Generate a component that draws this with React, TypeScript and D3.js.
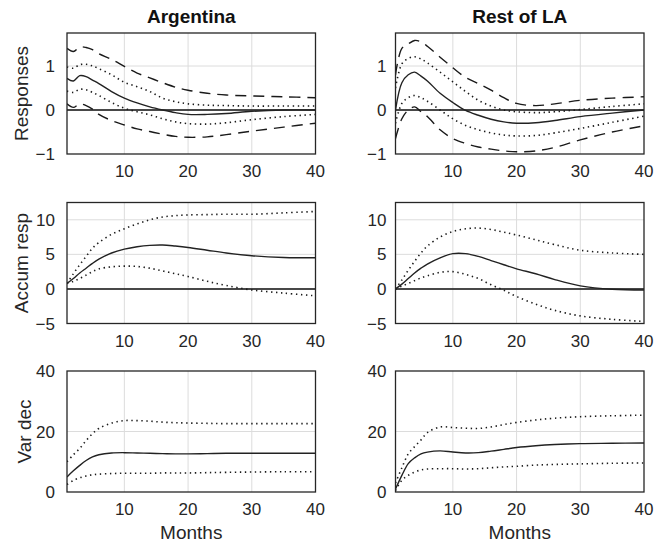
import React from "react";
import * as d3 from "d3";

const months = [1, 2, 3, 4, 5, 6, 8, 10, 12, 14, 16, 18, 20, 23, 26, 30, 35, 40];

// Row 1: Responses
const argRespMid = [0.72, 0.66, 0.78, 0.76, 0.68, 0.6, 0.42, 0.27, 0.16, 0.07, 0.0, -0.06, -0.1, -0.1, -0.08, -0.03, 0.0, 0.0];
const argRespU68 = [0.98, 0.95, 1.03, 1.04, 1.0, 0.94, 0.8, 0.63, 0.53, 0.42, 0.27, 0.19, 0.14, 0.11, 0.1, 0.09, 0.09, 0.09];
const argRespL68 = [0.43, 0.4, 0.47, 0.46, 0.4, 0.33, 0.17, 0.04, -0.04, -0.11, -0.2, -0.27, -0.31, -0.32, -0.29, -0.22, -0.15, -0.1];
const argRespU90 = [1.4, 1.33, 1.43, 1.42, 1.37, 1.28, 1.15, 0.99, 0.84, 0.73, 0.62, 0.52, 0.45, 0.38, 0.34, 0.32, 0.3, 0.28];
const argRespL90 = [0.14, 0.06, 0.14, 0.1, 0.02, -0.1, -0.24, -0.34, -0.43, -0.49, -0.55, -0.6, -0.62, -0.61, -0.56, -0.48, -0.39, -0.3];

const laRespMid = [0.0, 0.62, 0.8, 0.86, 0.77, 0.66, 0.38, 0.17, -0.01, -0.12, -0.21, -0.27, -0.3, -0.29, -0.24, -0.15, -0.07, 0.0];
const laRespU68 = [0.5, 1.05, 1.17, 1.21, 1.16, 1.07, 0.86, 0.64, 0.42, 0.22, 0.09, 0.0, -0.04, -0.06, -0.04, 0.01, 0.08, 0.14];
const laRespL68 = [-0.3, 0.15, 0.28, 0.33, 0.28, 0.2, 0.0, -0.2, -0.35, -0.45, -0.52, -0.57, -0.59, -0.58, -0.52, -0.42, -0.28, -0.14];
const laRespU90 = [0.8, 1.4, 1.5, 1.58, 1.55, 1.45, 1.2, 0.96, 0.74, 0.6, 0.45, 0.28, 0.15, 0.1, 0.14, 0.22, 0.27, 0.3];
const laRespL90 = [-0.65, -0.2, 0.0, 0.07, -0.04, -0.15, -0.45, -0.65, -0.76, -0.84, -0.89, -0.93, -0.95, -0.93, -0.85, -0.68, -0.5, -0.36];

// Row 2: Accumulated responses
const argAccMid = [0.8, 1.5, 2.3, 3.0, 3.7, 4.3, 5.2, 5.75, 6.1, 6.3, 6.35, 6.2, 6.0, 5.6, 5.2, 4.8, 4.55, 4.5];
const argAccU68 = [0.8, 2.2, 3.5, 4.7, 5.9, 6.7, 7.9, 8.7, 9.4, 10.0, 10.4, 10.6, 10.7, 10.75, 10.8, 10.8, 11.0, 11.2];
const argAccL68 = [0.8, 1.1, 1.5, 2.0, 2.5, 2.9, 3.2, 3.3, 3.25, 3.0, 2.6, 2.2, 1.8, 1.1, 0.5, -0.15, -0.6, -1.0];

const laAccMid = [0.0, 0.7, 1.5, 2.3, 3.0, 3.6, 4.5, 5.1, 5.1, 4.7, 4.1, 3.5, 2.9, 2.2, 1.35, 0.45, -0.05, -0.15];
const laAccU68 = [0.0, 1.3, 2.7, 4.0, 5.2, 6.2, 7.5, 8.3, 8.7, 8.8, 8.6, 8.2, 7.8, 7.1, 6.4, 5.6, 5.2, 5.0];
const laAccL68 = [0.0, 0.4, 0.8, 1.2, 1.6, 1.9, 2.4, 2.5, 2.1, 1.5, 0.6, -0.2, -1.1, -2.2, -3.1, -3.9, -4.4, -4.7];

// Row 3: Variance decomposition
const argVarMid = [5.0, 7.0, 8.8, 10.4, 11.6, 12.3, 12.9, 13.0, 12.9, 12.8, 12.7, 12.6, 12.6, 12.7, 12.8, 12.8, 12.8, 12.8];
const argVarU68 = [10.0, 12.3, 14.4, 17.0, 19.3, 21.0, 22.8, 23.6, 23.6, 23.4, 23.1, 22.9, 22.8, 22.7, 22.6, 22.6, 22.6, 22.6];
const argVarL68 = [2.5, 3.8, 4.7, 5.3, 5.7, 5.9, 6.1, 6.2, 6.2, 6.2, 6.3, 6.3, 6.3, 6.4, 6.5, 6.6, 6.7, 6.7];

const laVarMid = [1.0, 5.5, 9.4, 11.3, 12.6, 13.2, 13.6, 13.2, 12.9, 13.0, 13.5, 14.1, 14.7, 15.3, 15.7, 16.0, 16.1, 16.2];
const laVarU68 = [3.0, 8.0, 12.6, 15.0, 17.2, 19.6, 21.5, 21.3, 21.1, 21.0, 21.5, 22.3, 23.0, 23.8, 24.4, 24.9, 25.2, 25.4];
const laVarL68 = [0.5, 3.9, 5.5, 6.6, 7.3, 7.6, 7.7, 7.7, 7.6, 7.7, 8.0, 8.3, 8.5, 8.9, 9.1, 9.3, 9.5, 9.6];

const xTicks = [10, 20, 30, 40];
const respTicks = [-1, 0, 1];
const accTicks = [-5, 0, 5, 10];
const varTicks = [0, 20, 40];

const columnTitles = ["Argentina", "Rest of LA"];
const rowLabels = ["Responses", "Accum resp", "Var dec"];
const xLabel = "Months";

type Series = { values: number[]; style: "solid" | "dotted" | "dashed" };
type Panel = {
  col: number;
  row: number;
  domain: [number, number];
  ticks: number[];
  zeroLine: boolean;
  series: Series[];
};

const panels: Panel[] = [
  { col: 0, row: 0, domain: [-1, 1.75], ticks: respTicks, zeroLine: true, series: [
    { values: argRespU90, style: "dashed" }, { values: argRespL90, style: "dashed" },
    { values: argRespU68, style: "dotted" }, { values: argRespL68, style: "dotted" },
    { values: argRespMid, style: "solid" }] },
  { col: 1, row: 0, domain: [-1, 1.75], ticks: respTicks, zeroLine: true, series: [
    { values: laRespU90, style: "dashed" }, { values: laRespL90, style: "dashed" },
    { values: laRespU68, style: "dotted" }, { values: laRespL68, style: "dotted" },
    { values: laRespMid, style: "solid" }] },
  { col: 0, row: 1, domain: [-5, 12.5], ticks: accTicks, zeroLine: true, series: [
    { values: argAccU68, style: "dotted" }, { values: argAccL68, style: "dotted" },
    { values: argAccMid, style: "solid" }] },
  { col: 1, row: 1, domain: [-5, 12.5], ticks: accTicks, zeroLine: true, series: [
    { values: laAccU68, style: "dotted" }, { values: laAccL68, style: "dotted" },
    { values: laAccMid, style: "solid" }] },
  { col: 0, row: 2, domain: [0, 40], ticks: varTicks, zeroLine: false, series: [
    { values: argVarU68, style: "dotted" }, { values: argVarL68, style: "dotted" },
    { values: argVarMid, style: "solid" }] },
  { col: 1, row: 2, domain: [0, 40], ticks: varTicks, zeroLine: false, series: [
    { values: laVarU68, style: "dotted" }, { values: laVarL68, style: "dotted" },
    { values: laVarMid, style: "solid" }] },
];

const colLeft = [67, 395.5];
const colWidth = 248.5;
const rowTop = [33, 202.5, 371];
const rowHeight = 121;
const FONT = "'Liberation Sans', Arial, Helvetica, sans-serif";
const INK = "#262626";

function fmt(v: number) {
  return v < 0 ? "\u2212" + Math.abs(v) : String(v);
}

function PanelView({ p }: { p: Panel }) {
  const x0 = colLeft[p.col];
  const y0 = rowTop[p.row];
  const x = d3.scaleLinear().domain([1, 40]).range([x0, x0 + colWidth]);
  const y = d3.scaleLinear().domain(p.domain).range([y0 + rowHeight, y0]);
  const line = d3
    .line<number>()
    .x((_, i) => x(months[i]))
    .y((d) => y(d))
    .curve(d3.curveCatmullRom.alpha(0.5));
  const clipId = `clip-${p.row}-${p.col}`;
  const labelGap = p.col === 0 ? 12 : 9;
  return (
    <g>
      <defs>
        <clipPath id={clipId}>
          <rect x={x0} y={y0} width={colWidth} height={rowHeight} />
        </clipPath>
      </defs>
      <rect x={x0} y={y0} width={colWidth} height={rowHeight} fill="#fff" />
      {xTicks.slice(0, 3).map((t) => (
        <line key={"gx" + t} x1={x(t)} x2={x(t)} y1={y0} y2={y0 + rowHeight} stroke="#dcdcdc" strokeWidth={1} />
      ))}
      {p.ticks.map((t) =>
        t > p.domain[0] && t < p.domain[1] ? (
          <line key={"gy" + t} x1={x0} x2={x0 + colWidth} y1={y(t)} y2={y(t)} stroke="#dcdcdc" strokeWidth={1} />
        ) : null
      )}
      {p.zeroLine && (
        <line x1={x0} x2={x0 + colWidth} y1={y(0)} y2={y(0)} stroke="#111" strokeWidth={1.5} />
      )}
      <g clipPath={`url(#${clipId})`}>
        {p.series.map((s, i) => (
          <path
            key={i}
            d={line(s.values) || ""}
            fill="none"
            stroke={s.style === "solid" ? "#222" : "#1a1a1a"}
            strokeWidth={s.style === "dotted" ? 1.6 : 1.4}
            strokeDasharray={s.style === "dotted" ? "1.4,3.6" : s.style === "dashed" ? "11,7" : undefined}
          />
        ))}
      </g>
      <rect x={x0} y={y0} width={colWidth} height={rowHeight} fill="none" stroke={INK} strokeWidth={1.3} />
      {xTicks.map((t) => (
        <text key={"tx" + t} x={x(t)} y={y0 + rowHeight + 23} textAnchor="middle" fontSize={17} fill={INK} fontFamily={FONT}>
          {t}
        </text>
      ))}
      {p.ticks.map((t) => (
        <text key={"ty" + t} x={x0 - labelGap} y={y(t)} dy="0.36em" textAnchor="end" fontSize={17} fill={INK} fontFamily={FONT}>
          {fmt(t)}
        </text>
      ))}
    </g>
  );
}

export default function App() {
  return (
    <svg width={655} height={548} style={{ position: "absolute", left: 0, top: 0, background: "#fff" }}>
      <rect width={655} height={548} fill="#fff" />
      {panels.map((p, i) => (
        <PanelView key={i} p={p} />
      ))}
      {columnTitles.map((t, i) => (
        <text key={t} x={colLeft[i] + colWidth / 2} y={23} textAnchor="middle" fontSize={19} fontWeight="bold" fill="#111" fontFamily={FONT}>
          {t}
        </text>
      ))}
      {rowLabels.map((t, i) => (
        <text
          key={t}
          transform={`translate(${i === 2 ? 31 : 28},${rowTop[i] + rowHeight / 2}) rotate(-90)`}
          textAnchor="middle"
          fontSize={19}
          fill={INK}
          fontFamily={FONT}
        >
          {t}
        </text>
      ))}
      {colLeft.map((l, i) => (
        <text key={"xl" + i} x={l + colWidth / 2} y={539} textAnchor="middle" fontSize={19} fill={INK} fontFamily={FONT}>
          {xLabel}
        </text>
      ))}
    </svg>
  );
}
